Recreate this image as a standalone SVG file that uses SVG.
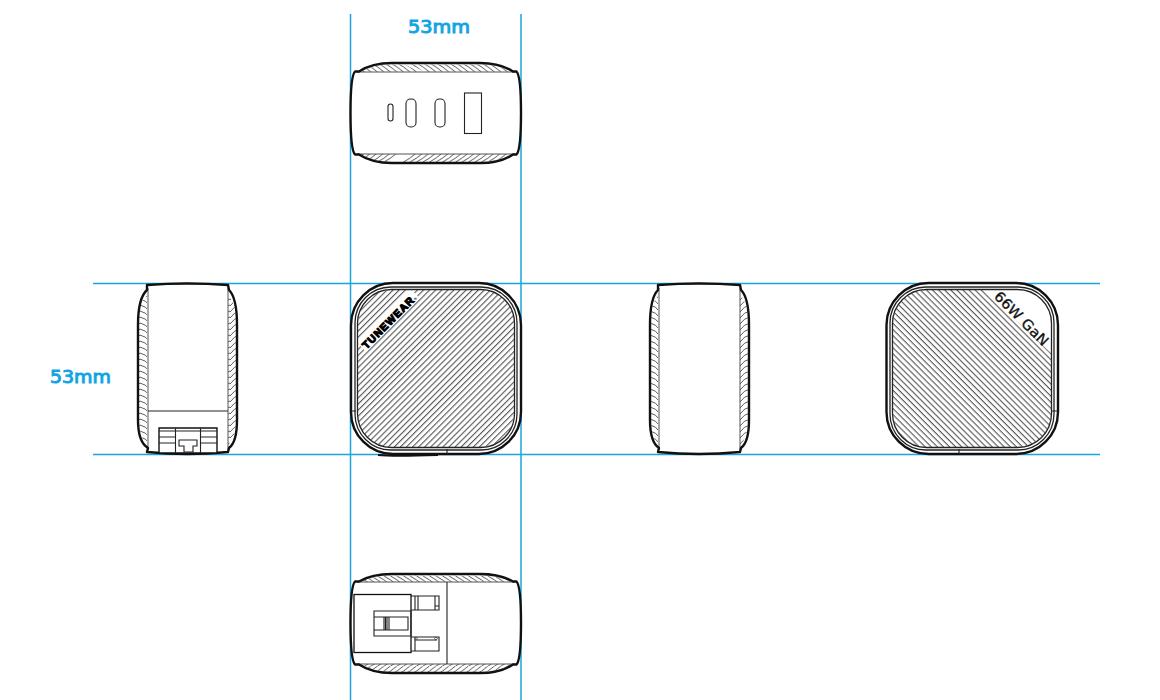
<svg xmlns="http://www.w3.org/2000/svg" width="1160" height="700" viewBox="0 0 1160 700">
<style>
.dim{stroke:#1aa5de;stroke-width:1.500;fill:none}
.dimt{fill:#12a5e3;stroke:#12a5e3;stroke-width:1;font-family:"DejaVu Sans","Liberation Sans",sans-serif;font-size:18px}
.out{fill:#fff;stroke:#111;stroke-width:2.400;stroke-linejoin:round}
.sil{fill:none;stroke:#111;stroke-width:2.400;stroke-linejoin:round}
.thin{fill:none;stroke:#222;stroke-width:1.100}
.gr{fill:none;stroke:#555;stroke-width:1}
.ring{fill:none;stroke:#222;stroke-width:1.300}
</style>
<defs>
<pattern id="hl" width="4.300" height="4.300" patternUnits="userSpaceOnUse" patternTransform="rotate(-45)"><path d="M0 1.500H4.300" stroke="#222" stroke-width=".85"/></pattern>
<pattern id="hr" width="4.300" height="4.300" patternUnits="userSpaceOnUse" patternTransform="rotate(45)"><path d="M0 1.500H4.300" stroke="#222" stroke-width=".85"/></pattern>
<pattern id="cl" width="10" height="6" patternUnits="userSpaceOnUse"><path d="M0 -1Q6 0 10 6M0 -7Q6 -6 10 0M0 5Q6 6 10 12" fill="none" stroke="#333" stroke-width=".8"/></pattern>
<pattern id="cr" width="10" height="6" patternUnits="userSpaceOnUse"><path d="M10 -1Q4 0 0 6M10 -7Q4 -6 0 0M10 5Q4 6 0 12" fill="none" stroke="#333" stroke-width=".8"/></pattern>
<pattern id="ct" width="6.500" height="9" patternUnits="userSpaceOnUse"><path d="M-6 0Q0 3 7 9M-12.500 0Q-6.500 3 .5 9M.5 0Q6.500 3 13.500 9" fill="none" stroke="#333" stroke-width=".8"/></pattern>
<pattern id="cb" width="6.500" height="9" patternUnits="userSpaceOnUse"><path d="M-6 9Q0 6 7 0M-12.500 9Q-6.500 6 .5 0M.5 9Q6.500 6 13.500 0" fill="none" stroke="#333" stroke-width=".8"/></pattern>
</defs>

<g id="connectors">
<path class="dim" d="M350.500 14V700M521 14V700M93 283.500H1100M93 454.500H1100"/>
</g>

<g id="dim-labels">
<text class="dimt" x="408" y="33" textLength="62" lengthAdjust="spacingAndGlyphs">53mm</text>
<text class="dimt" x="50" y="383" textLength="61" lengthAdjust="spacingAndGlyphs">53mm</text>
</g>

<g id="view-top">
<path fill="#fff" d="M350.500 113Q350.500 76 355 71.500H359Q372 63 392 63H480Q500 63 513 71.500H516.500Q521 76 521 113Q521 150 516.500 154.500H513Q500 163 480 163H392Q372 163 359 154.500H355Q350.500 150 350.500 113Z"/>
<path d="M362 71Q374 64.500 392 64.500H480Q498 64.500 510 71V72H362Z" fill="url(#ct)"/>
<path d="M362 155Q374 162 392 162H480Q498 162 510 155V154H362Z" fill="url(#cb)"/>
<path d="M404 64L420 72H425L409 64ZM397 154L389 162H400L410 154Z" fill="#fff"/>
<path class="gr" d="M357 72H515M357 154H515"/>
<path class="sil" d="M350.500 113Q350.500 76 355 71.500H359Q372 63 392 63H480Q500 63 513 71.500H516.500Q521 76 521 113Q521 150 516.500 154.500H513Q500 163 480 163H392Q372 163 359 154.500H355Q350.500 150 350.500 113Z"/>
<rect class="thin" x="388" y="104" width="5" height="17" rx="2.500"/>
<rect class="thin" x="406" y="99" width="10" height="28" rx="4.500"/>
<rect class="thin" x="435" y="99" width="10" height="28" rx="4.500"/>
<rect class="thin" x="464.500" y="93" width="17" height="40.500"/>
</g>

<g id="view-front">
<rect class="out" x="351" y="283" width="170" height="171" rx="42"/>
<rect x="358" y="290" width="156" height="157" rx="33" fill="url(#hl)"/>
<rect x="-38" y="-9" width="76" height="13" transform="translate(389 321) rotate(-45)" fill="#fff"/>
<rect class="ring" x="355" y="287" width="162" height="163" rx="36"/>
<rect class="ring" x="357.500" y="289.500" width="157" height="158" rx="34"/>
<path d="M351 411H356M447 449V454" class="thin"/>
<path d="M378 455Q392 456.500 438 455" fill="none" stroke="#111" stroke-width="2"/>
<text transform="translate(392 324) rotate(-45)" text-anchor="middle" font-family="'Liberation Sans',sans-serif" font-weight="700" font-size="10.500" stroke="#000" stroke-width="1.100" textLength="72">TUNEWEAR<tspan font-size="4" stroke-width="0">®</tspan></text>
</g>

<g id="view-left">
<path fill="#fff" d="M147 285Q187 282 228 285L229 290Q237 298 237 325V420Q237 442 229 448L228 452Q187 456 147 452L148 448Q138 442 138 420V325Q138 298 147 290Z"/>
<path d="M139 320Q139 302 147 295V445Q139 438 139 420Z" fill="url(#cl)"/>
<path d="M236 320Q236 302 228 295V445Q236 438 236 420Z" fill="url(#cr)"/>
<path class="gr" d="M148 288V450M228 288V450"/>
<path class="sil" d="M147 285Q187 282 228 285L229 290Q237 298 237 325V420Q237 442 229 448L228 452Q187 456 147 452L148 448Q138 442 138 420V325Q138 298 147 290Z"/>
<path class="thin" d="M148 411H228"/>
<path d="M159 428H217V453H159Z" fill="#fff" stroke="#111" stroke-width="1.400"/>
<path class="thin" d="M159 431H217M175.500 428V453M200.500 428V453M159 443H175.500M159 437H175.500M200.500 437H217M200.500 443H217M179 440H197V446H193V452H184V446H179Z"/>
</g>

<g id="view-right">
<path fill="#fff" d="M658 285Q699 282 740 285L741 290Q749 298 749 325V420Q749 442 741 448L740 452Q699 456 658 452L659 448Q650 442 650 420V325Q650 298 658 290Z"/>
<path d="M651 320Q651 302 658 295V445Q651 438 651 420Z" fill="url(#cl)"/>
<path d="M748 320Q748 302 740 295V445Q748 438 748 420Z" fill="url(#cr)"/>
<path class="gr" d="M659 288V450M740 288V450"/>
<path class="sil" d="M658 285Q699 282 740 285L741 290Q749 298 749 325V420Q749 442 741 448L740 452Q699 456 658 452L659 448Q650 442 650 420V325Q650 298 658 290Z"/>
</g>

<g id="view-back">
<rect class="out" x="886.500" y="283" width="171.500" height="171" rx="42"/>
<rect x="893" y="290" width="158" height="157" rx="33" fill="url(#hr)"/>
<path d="M982 288L1052 354V320Q1052 289 1018 288Z" fill="#fff"/>
<rect class="ring" x="890" y="287" width="164" height="163" rx="36"/>
<rect class="ring" x="892.500" y="289.500" width="159" height="158" rx="34"/>
<path d="M1051 411H1057.500M959 449V454" class="thin"/>
<text transform="translate(1018 322) rotate(45)" text-anchor="middle" font-family="'DejaVu Sans',sans-serif" font-size="14" fill="#111" stroke="#111" stroke-width=".3" textLength="70" lengthAdjust="spacingAndGlyphs">66W GaN</text>
</g>

<g id="view-bottom">
<path fill="#fff" d="M350.500 623Q350.500 586 355 581.500H359Q372 574 392 574H480Q500 574 513 581.500H516.500Q521 586 521 623Q521 660 516.500 664.500H513Q500 673 480 673H392Q372 673 359 664.500H355Q350.500 660 350.500 623Z"/>
<path d="M362 581Q374 575.500 392 575.500H480Q498 575.500 510 581V582H362Z" fill="url(#ct)"/>
<path d="M362 665Q374 672 392 672H480Q498 672 510 665V664H362Z" fill="url(#cb)"/>
<path class="gr" d="M357 582H515M357 664H515"/>
<path class="sil" d="M350.500 623Q350.500 586 355 581.500H359Q372 574 392 574H480Q500 574 513 581.500H516.500Q521 586 521 623Q521 660 516.500 664.500H513Q500 673 480 673H392Q372 673 359 664.500H355Q350.500 660 350.500 623Z"/>
<path class="thin" d="M447 582V664"/>
<rect x="354" y="594.500" width="57" height="58" fill="#fff" stroke="#111" stroke-width="1.300"/>
<path class="thin" d="M411 596H439V610H411M415 596V610M418 596V610M435 596V610M435 606H439"/>
<path class="thin" d="M411 637H439V651H411M415 637V651M415 640H437"/>
<path class="thin" d="M374 611H411V636H374ZM374 617H408V630H374ZM408 617V630M384 617V630M385.500 617V630M387 617V630M389 617V630"/>
<circle cx="416" cy="638.500" r="1.300" class="gr"/>
<circle cx="436" cy="638.500" r="1.300" class="gr"/>
</g>
</svg>
